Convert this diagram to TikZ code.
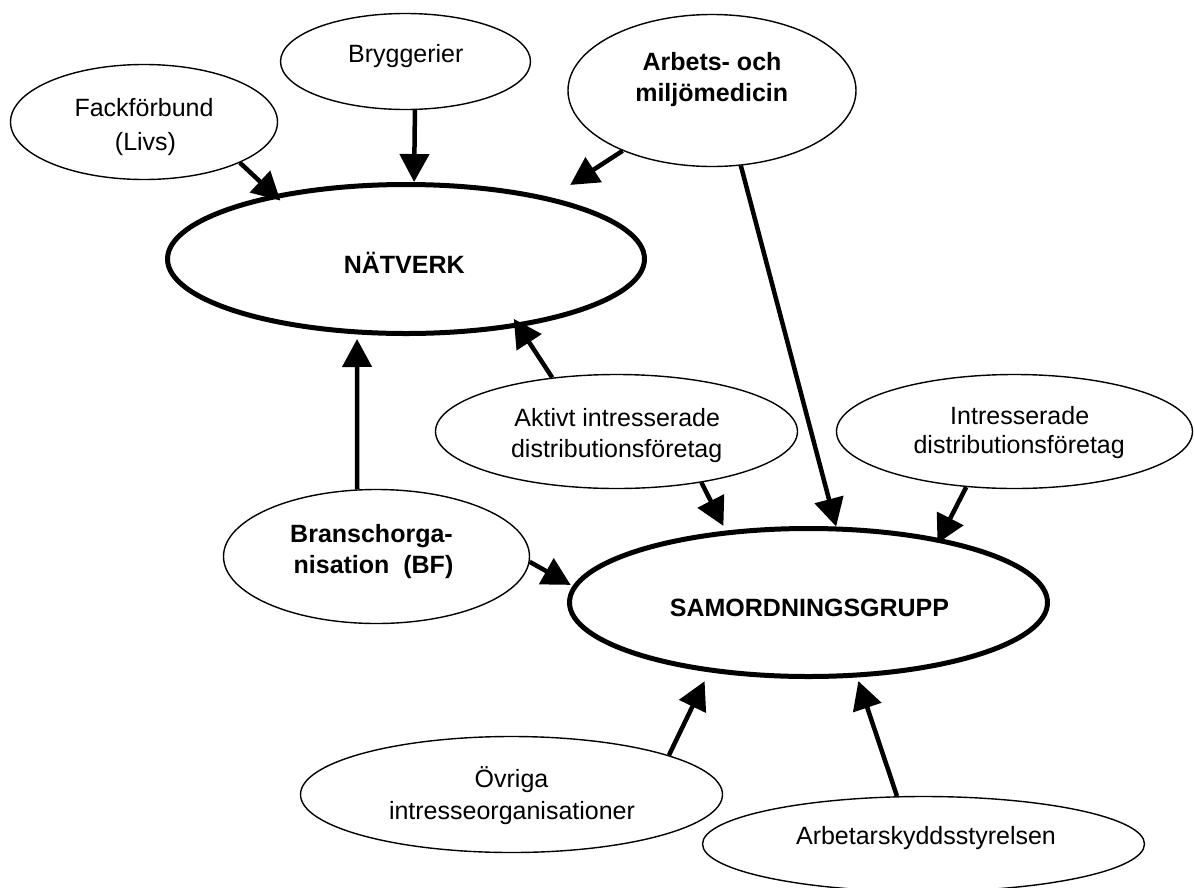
\documentclass[tikz,border=0pt]{standalone}
\usepackage{fontspec}
\setmainfont{Liberation Sans}
\usetikzlibrary{arrows.meta,shapes.geometric}
\begin{document}
\begin{tikzpicture}[x=1pt,y=-1pt,
  smallell/.style={draw, ellipse, line width=1.4pt, inner sep=0pt},
  bigell/.style={draw, ellipse, line width=5pt, inner sep=0pt},
  txt/.style={inner sep=0pt, anchor=base, font=\fontsize{25}{30}\selectfont},
  btxt/.style={inner sep=0pt, anchor=base, font=\fontsize{25}{30}\selectfont\bfseries},
  arr/.style={line width=4.5pt, -{Triangle[length=28pt,width=29pt]}}
]
\useasboundingbox (0,0) rectangle (1195,887);
% ellipses
\node[smallell, minimum width=267pt, minimum height=115pt] (fack) at (144,122) {};
\node[smallell, minimum width=250pt, minimum height=96pt] (bryg) at (405.5,61.5) {};
\node[smallell, minimum width=288pt, minimum height=152pt] (arbets) at (712,90.5) {};
\node[bigell, minimum width=477pt, minimum height=149pt] (nat) at (406,259) {};
\node[smallell, minimum width=362pt, minimum height=114pt] (aktivt) at (616.5,431.5) {};
\node[smallell, minimum width=356pt, minimum height=114pt] (intr) at (1014.5,431.5) {};
\node[smallell, minimum width=306pt, minimum height=134pt] (bransch) at (376.5,556.5) {};
\node[bigell, minimum width=478pt, minimum height=148pt] (samord) at (808.5,602.5) {};
\node[smallell, minimum width=422pt, minimum height=116pt] (ovriga) at (511.5,794.5) {};
\node[smallell, minimum width=442pt, minimum height=95pt] (arbsk) at (923.5,844) {};
% texts
\node[txt] (fackA) at (144,116.5) {Fackförbund};
\node[txt] (fackB) at (145.5,150) {(Livs)};
\node[txt] (brygA) at (405.8,62.3) {Bryggerier};
\node[btxt] (arbetsA) at (712,70) {Arbets- och};
\node[btxt] (arbetsB) at (711.7,101.7) {miljömedicin};
\node[btxt] (natA) at (404.2,273) {NÄTVERK};
\node[txt] (aktA) at (617.2,426) {Aktivt intresserade};
\node[txt] (aktB) at (616.7,457.7) {distributionsföretag};
\node[txt] (intrA) at (1019.7,424.3) {Intresserade};
\node[txt] (intrB) at (1019.2,453.3) {distributionsföretag};
\node[btxt] (brA) at (371.5,542.7) {Branschorga-};
\node[btxt] (brB) at (373.5,573.3) {nisation~~(BF)};
\node[btxt] (samA) at (809.5,616) {SAMORDNINGSGRUPP};
\node[txt] (ovA) at (511.5,787.7) {Övriga};
\node[txt] (ovB) at (512,819.3) {intresseorganisationer};
\node[txt] (arbskA) at (926,844.3) {Arbetarskyddsstyrelsen};
% arrows
\draw[arr, shorten >=-8.8pt] (fack.-23) -- (nat.154.3);
\draw[arr] (bryg.-79) -- (nat.84.1);
\draw[arr, shorten >=23pt] (arbets.-146.1) -- (nat.23);
\draw[arr] (arbets.-69.4) -- (samord.70.7);
\draw[arr, shorten >=-9.7pt] (aktivt.140.6) -- (nat.-31.3);
\draw[arr, shorten >=5.3pt] (aktivt.-31.6) -- (samord.139.1);
\draw[arr, shorten >=-5.6pt] (intr.-131.5) -- (samord.26.8);
\draw[arr, shorten >=4.6pt] (bransch.106.2) -- (nat.-123);
\draw[arr, shorten >=2.3pt] (bransch.-2.7) -- (samord.176.3);
\draw[arr, shorten >=10pt] (ovriga.14.7) -- (samord.-145.4);
\draw[arr, shorten >=3.8pt] (arbsk.119.6) -- (samord.-57.2);
\end{tikzpicture}
\end{document}
